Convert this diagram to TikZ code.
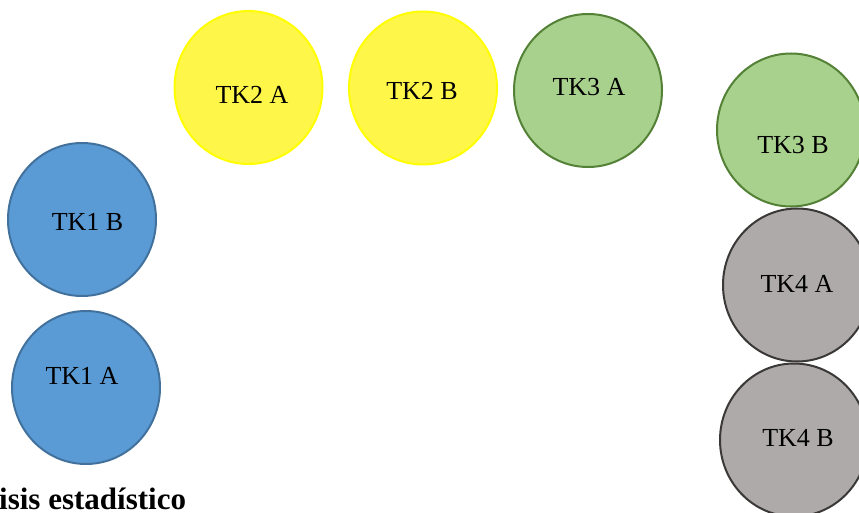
\documentclass[tikz,border=0pt]{standalone}
\usepackage{fontspec}
\setmainfont{Liberation Serif}
\usetikzlibrary{shapes.geometric}
\definecolor{bluefill}{HTML}{5B9BD5}
\definecolor{blueline}{HTML}{41719C}
\definecolor{yelfill}{HTML}{FFF64A}
\definecolor{yelline}{HTML}{FFFF00}
\definecolor{grnfill}{HTML}{A9D18E}
\definecolor{grnline}{HTML}{538135}
\definecolor{gryfill}{HTML}{AEAAAA}
\definecolor{gryline}{HTML}{3B3838}
\tikzset{
  tank/.style={ellipse, minimum width=148pt, minimum height=153pt, inner sep=0pt, line width=2pt},
  tkblue/.style={tank, fill=bluefill, draw=blueline},
  tkyel/.style={tank, fill=yelfill, draw=yelline},
  tkgrn/.style={tank, fill=grnfill, draw=grnline},
  tkgry/.style={tank, fill=gryfill, draw=gryline},
  tklabel/.style={font=\fontsize{26}{30}\selectfont, text=black, inner sep=0pt},
  caption/.style={font=\fontsize{31}{36}\selectfont\bfseries, text=black, inner sep=0pt, anchor=base west}
}
\begin{document}
\begin{tikzpicture}[x=1pt,y=-1pt]
\useasboundingbox (0,0) rectangle (859,513);
\clip (0,0) rectangle (859,513);
\node[tkyel] (tk2a) at (248.5,87.5) {};
\node[tklabel] (tk2al) at (252,95) {TK2 A};
\node[tkyel] (tk2b) at (423,88) {};
\node[tklabel] (tk2bl) at (422,91) {TK2 B};
\node[tkgrn] (tk3a) at (588,90.5) {};
\node[tklabel] (tk3al) at (589,87.5) {TK3 A};
\node[tkgrn] (tk3b) at (791,130) {};
\node[tklabel] (tk3bl) at (793,145) {TK3 B};
\node[tkgry] (tk4a) at (797,285) {};
\node[tklabel] (tk4al) at (797,284) {TK4 A};
\node[tkgry] (tk4b) at (794,440) {};
\node[tklabel] (tk4bl) at (798,438) {TK4 B};
\node[tkblue] (tk1b) at (82,219.5) {};
\node[tklabel] (tk1bl) at (87.5,222) {TK1 B};
\node[tkblue] (tk1a) at (86,387.5) {};
\node[tklabel] (tk1al) at (82,376) {TK1 A};
\node[caption] (cap) at (-1,509) {isis estadístico};
\end{tikzpicture}
\end{document}
